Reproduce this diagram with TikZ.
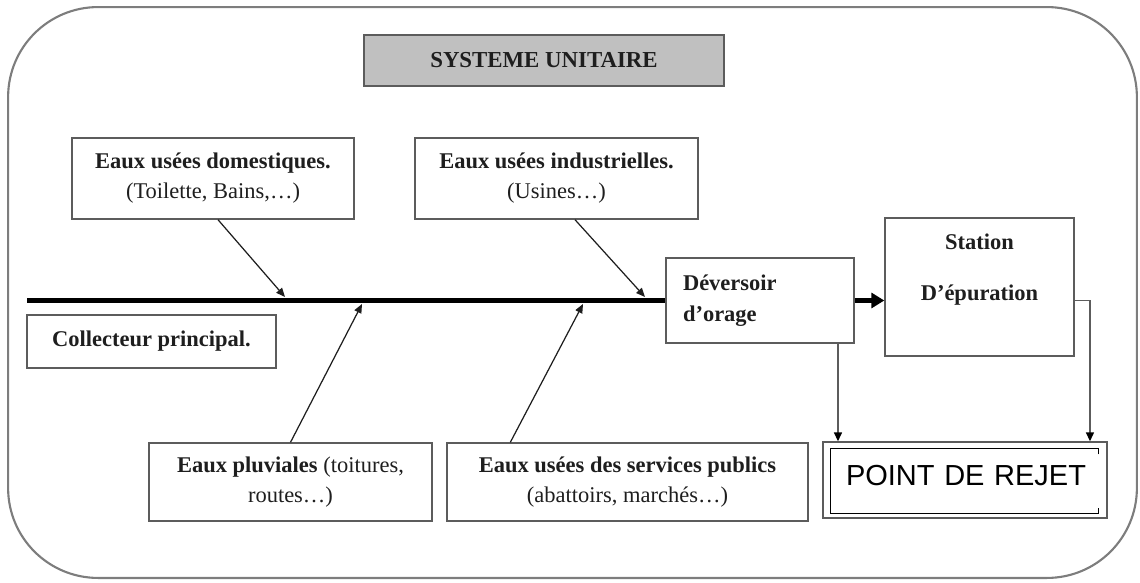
\documentclass[tikz,border=0pt]{standalone}
\usepackage{fontspec}
\setmainfont{Liberation Serif}
\newfontfamily\arialfont{Liberation Sans}
\usetikzlibrary{arrows.meta, positioning}

\definecolor{boxgray}{HTML}{5C5C5C}
\definecolor{textcol}{HTML}{1E1E1E}
\definecolor{titlefill}{HTML}{C0C0C0}

\begin{document}
\begin{tikzpicture}[
    x=0.02cm, y=-0.02cm,
    % Styles
    box/.style={draw=boxgray, line width=0.8pt, text=textcol, align=center, inner sep=0pt,
                font=\fontsize{12.8}{17}\selectfont},
    frame/.style={draw=boxgray!80, line width=1.2pt, rounded corners=1.8cm, inner sep=0pt},
    feed/.style={draw=textcol, line width=0.7pt, -{Triangle[length=1.8mm, width=1.5mm]}},
    collector/.style={draw=black, line width=2.4pt},
    collector arrow/.style={collector, -{Triangle[length=2.6mm, width=3mm]}},
    outlet/.style={draw=boxgray, line width=0.8pt, -{Triangle[length=1.8mm, width=1.6mm, color=black]}}
]
    \useasboundingbox (0,0) rectangle (1140,582);

    % Outer rounded frame
    \node[frame, minimum width=22.58cm, minimum height=11.42cm] (cadre) at (572.5,292.5) {};

    % Title
    \node[box, fill=titlefill, minimum width=7.2cm, minimum height=1.02cm,
          font=\fontsize{13}{15}\selectfont\bfseries] (titre) at (544,60.5) {SYSTEME UNITAIRE};

    % Upper inputs
    \node[box, minimum width=5.64cm, minimum height=1.62cm] (domest) at (213,178.5)
        {\textbf{Eaux usées domestiques.}\\(Toilette, Bains,…)};
    \node[box, minimum width=5.66cm, minimum height=1.62cm] (indust) at (556.5,178.5)
        {\textbf{Eaux usées industrielles.}\\(Usines…)};

    % Collector label
    \node[box, minimum width=4.98cm, minimum height=1.06cm, font=\fontsize{12.8}{15}\selectfont\bfseries]
        (collect) at (151.5,341.5) {Collecteur principal.};

    % Lower inputs
    \node[box, minimum width=5.66cm, minimum height=1.56cm] (pluvial) at (290.5,482)
        {\textbf{Eaux pluviales} (toitures,\\routes…)};
    \node[box, minimum width=7.22cm, minimum height=1.56cm] (public) at (627.5,482)
        {\textbf{Eaux usées des services publics}\\(abattoirs, marchés…)};

    % Overflow and treatment
    \node[box, minimum width=3.76cm, minimum height=1.7cm, align=left, text width=3.08cm,
          font=\fontsize{12.8}{17.5}\selectfont\bfseries] (deversoir) at (760,300.5)
        {Déversoir\\d’orage};
    \node[box, minimum width=3.78cm, minimum height=2.76cm, font=\fontsize{12.8}{17}\selectfont\bfseries]
        (station) at (979.5,287) {Station\\[0.42cm]D’épuration\\[0.2cm]~};

    % Discharge point
    \node[box, minimum width=5.68cm, minimum height=1.52cm, align=left, text width=4.76cm,
          font=\arialfont\fontsize{16.5}{18}\selectfont, text=black] (rejet) at (965,480)
        {\raisebox{0.18cm}{POINT DE REJET}};
    \draw[black, line width=0.9pt]
        ([shift={(-0.18cm,-0.26cm)}]rejet.north east) -- ([shift={(-0.18cm,-0.14cm)}]rejet.north east)
        -- ([shift={(0.16cm,-0.14cm)}]rejet.north west) -- ([shift={(0.16cm,0.1cm)}]rejet.south west)
        -- ([shift={(-0.18cm,0.1cm)}]rejet.south east) -- ([shift={(-0.18cm,0.22cm)}]rejet.south east);

    % Main collector
    \coordinate (cstart) at (27,300.5);
    \coordinate (j1) at (285,297);
    \coordinate (j2) at (362,304);
    \coordinate (j3) at (583,304);
    \coordinate (j4) at (645,297);
    \draw[collector] (cstart) -- (deversoir.west);
    \draw[collector arrow] (deversoir.east) -- (deversoir.east -| station.west);

    % Inputs to the collector
    \draw[feed] ([xshift=0.1cm]domest.south) -- (j1);
    \draw[feed] ([xshift=0.37cm]indust.south) -- (j4);
    \draw[feed] (pluvial.north) -- (j2);
    \draw[feed] ([xshift=1.28cm]public.north west) -- (j3);

    % Outlets to the discharge point
    \draw[outlet] ([xshift=1.56cm]deversoir.south) -- ([xshift=1.56cm]deversoir.south |- rejet.north);
    \draw[outlet] (station.east |- deversoir.east) -| ([xshift=2.5cm]rejet.north);
\end{tikzpicture}
\end{document}
